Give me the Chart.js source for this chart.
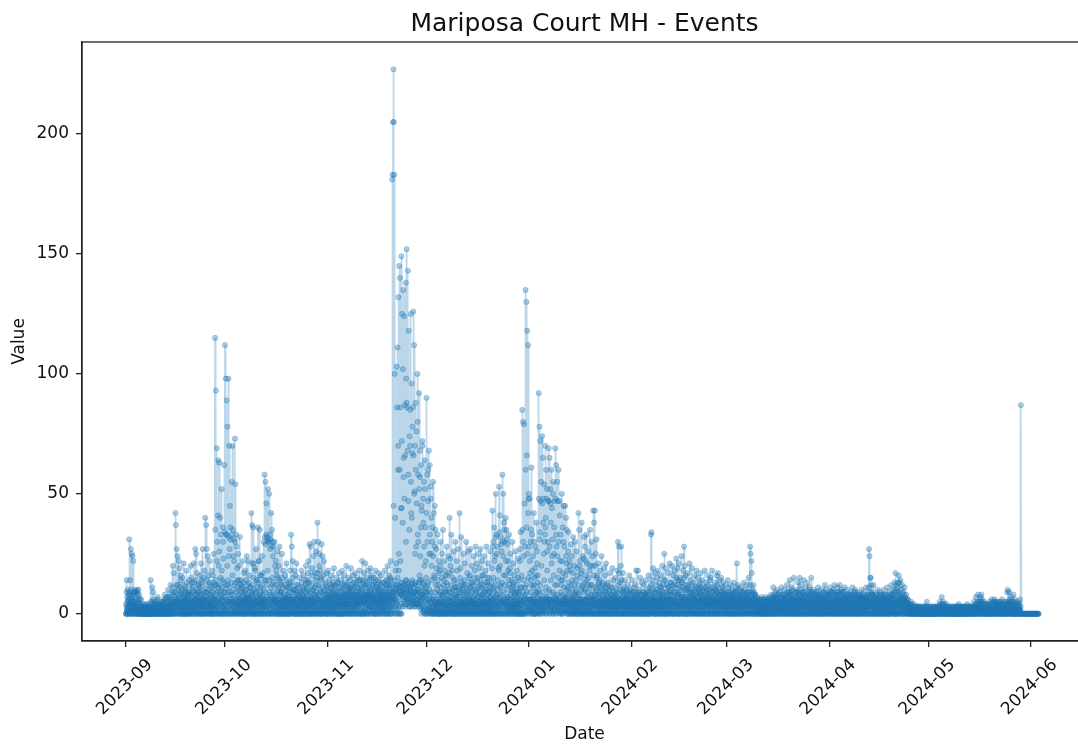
<!DOCTYPE html>
<html><head><meta charset="utf-8">
<style>html,body{margin:0;padding:0;background:#fff;overflow:hidden}#w{width:1078px;height:747px;overflow:hidden}</style>
<script src="https://cdn.jsdelivr.net/npm/chart.js@4"></script></head>
<body><div id="w"><canvas id="c" width="1087" height="747"></canvas></div>
<script>
const titleText = 'Mariposa Court MH - Events';
const xLabel = 'Date', yLabel = 'Value';
const monthLabels = ['2023-09','2023-10','2023-11','2023-12','2024-01','2024-02','2024-03','2024-04','2024-05','2024-06'];
const yTicks = [0,50,100,150,200];
// hourly readings: a = hour 0 of each 3-hour slot, b = hour 1, c = hour 2; one row per day
const sep2023 = [
0,0,14,1,0,6,0,3,
31,0,14,5,27,2,25,0,
24,0,22,3,9,0,4,1,
9,1,0,10,2,0,5,0,
8,0,3,0,6,1,0,2,
2,0,1,0,3,0,1,0,
0,1,0,2,0,1,0,0,
3,0,1,0,14,2,0,1,
11,0,9,2,0,4,1,0,
0,1,0,3,0,7,1,0,
2,0,1,0,4,0,1,0,
0,3,0,5,1,0,8,0,
3,0,2,7,0,1,10,0,
0,6,1,0,12,3,0,5,
9,0,20,2,17,0,4,1,
42,37,6,27,0,24,12,3,
22,0,19,5,16,0,8,2,
0,15,4,0,21,7,0,3,
11,0,6,18,1,0,9,4,
0,8,14,2,0,20,5,1,
13,3,0,10,21,0,6,2,
27,0,25,4,17,1,9,0,
0,12,5,16,0,8,21,3,
14,0,27,2,6,0,18,1,
40,0,37,9,27,3,24,0,
16,5,0,22,8,1,12,0,
0,18,3,13,0,25,6,2,
115,0,93,12,69,30,0,41,
64,20,63,0,40,8,33,0,
52,14,0,36,23,0,62,9];
const oct2023 = [
112,0,98,33,89,0,78,12,
98,24,70,0,45,31,8,0,
55,0,70,35,5,31,22,1,
73,54,0,33,28,0,14,3,
25,0,20,6,32,1,14,0,
12,3,0,22,8,0,17,2,
0,18,5,10,0,24,2,7,
22,0,6,16,1,11,0,4,
42,0,37,8,36,2,21,0,
19,4,0,27,9,1,14,0,
36,0,22,7,35,0,11,3,
16,0,24,2,8,0,30,5,
58,0,55,14,46,3,32,0,
52,30,0,50,9,33,31,2,
42,0,35,12,30,0,28,6,
30,5,0,22,18,0,26,1,
15,0,20,4,28,0,9,2,
0,12,25,0,6,18,1,0,
8,0,16,3,0,21,5,0,
11,2,0,13,7,0,18,1,
33,0,28,5,22,1,10,0,
18,0,6,16,0,21,3,0,
2,12,0,7,15,0,4,9,
0,18,5,0,11,2,16,0,
7,0,14,1,20,0,9,3,
13,0,22,4,0,29,6,0,
28,2,0,19,10,0,24,5,
30,0,17,7,26,0,12,1,
38,0,30,6,25,2,18,0,
15,0,29,3,24,0,9,1,
22,4,0,13,6,0,17,2];
const nov2023 = [
11,0,18,5,0,14,2,7,
0,16,3,9,0,12,1,0,
19,0,6,11,2,0,15,4,
8,0,13,1,17,0,5,0,
0,14,7,0,18,3,10,0,
16,2,0,9,12,0,20,4,
6,0,15,1,11,0,8,14,
0,19,4,10,0,7,16,2,
13,0,5,17,1,0,12,8,
0,15,9,3,0,18,6,0,
14,1,0,11,22,0,7,13,
0,17,5,0,21,9,2,12,
15,0,8,18,0,6,14,3,
19,4,0,10,16,1,12,0,
7,15,0,5,18,0,11,2,
12,0,9,14,0,17,3,8,
0,10,16,1,6,0,13,5,
3,0,9,18,2,0,14,7,
0,12,20,6,0,16,3,10,
0,22,14,6,0,181,183,205,
227,205,183,100,40,12,0,21,
103,0,111,60,132,18,145,0,
140,22,0,149,44,125,8,102,
135,65,124,12,87,4,138,98,
152,86,7,143,58,118,3,74,
85,10,125,42,96,5,67,86,
126,9,112,51,70,3,88,28,
76,6,100,33,58,4,92,16,
68,24,3,62,45,8,72,13,
48,2,55,20,64,0,36,11];
const dec2023 = [
90,0,58,12,47,3,68,8,
62,1,53,25,40,0,30,6,
55,0,42,15,28,4,35,0,
27,2,0,33,12,0,22,5,
18,0,30,4,8,0,25,1,
35,0,14,22,2,0,16,9,
0,28,6,12,0,24,3,17,
40,0,20,5,33,1,9,0,
15,0,26,2,11,0,30,4,
0,22,7,18,0,27,3,10,
42,0,19,4,32,0,13,1,
8,0,25,12,0,21,5,2,
30,3,0,17,9,0,26,6,
0,16,27,1,11,0,20,4,
13,0,24,6,0,18,2,28,
0,9,21,3,15,0,25,7,
19,0,12,27,1,0,8,22,
5,0,16,24,0,10,2,18,
0,28,6,13,0,21,3,9,
15,1,0,26,7,0,19,4,
43,0,30,11,36,2,24,0,
50,0,33,8,28,3,19,1,
53,0,41,12,32,0,26,5,
58,0,50,16,38,4,30,0,
40,0,35,7,29,1,22,3,
33,0,19,25,6,0,14,2,
30,0,12,21,3,16,0,8,
26,4,0,18,9,0,23,1,
14,0,27,5,34,0,11,2,
85,0,80,24,79,0,46,8,
135,0,130,66,118,3,112,48];
const jan2024 = [
50,0,48,17,30,0,61,6,
33,1,24,0,42,12,0,19,
28,0,38,9,21,3,16,0,
92,0,78,34,72,5,55,0,
74,3,65,48,0,54,30,2,
70,40,60,0,52,26,4,47,
69,6,65,0,52,38,3,60,
44,0,31,55,8,25,2,47,
69,5,62,28,0,55,47,1,
60,3,47,41,0,33,12,4,
50,0,36,17,45,2,28,7,
45,1,40,21,35,0,11,26,
34,0,22,5,18,0,29,3,
24,0,14,32,6,0,20,2,
30,0,10,26,1,16,0,8,
42,0,35,4,22,0,17,1,
38,3,0,24,12,0,32,6,
28,0,16,33,2,21,0,9,
26,5,0,18,35,1,12,0,
30,0,20,7,43,0,38,4,
43,0,25,10,31,2,16,0,
21,0,8,14,1,18,0,5,
24,2,0,12,6,0,19,3,
16,0,9,21,1,11,0,4,
0,13,5,0,17,2,8,0,
11,0,19,3,0,14,6,1,
7,0,15,2,10,0,18,3,
30,0,28,6,0,13,4,20,
28,2,0,9,17,0,5,11,
0,14,3,7,0,10,1,6,
12,0,4,16,1,0,8,3];
const feb2024 = [
0,9,2,14,0,5,11,0,
7,0,12,1,18,0,3,8,
18,2,0,10,5,0,15,1,
0,6,13,0,3,9,0,12,
8,1,0,14,4,0,7,2,
10,0,16,3,0,11,1,5,
33,34,0,14,7,19,1,0,
9,0,17,2,12,0,4,15,
0,18,5,0,13,8,1,11,
16,3,0,20,7,0,12,2,
25,0,14,4,19,0,9,1,
6,0,17,11,0,21,3,8,
13,1,0,20,5,0,16,9,
0,18,6,12,0,23,2,14,
19,0,8,21,3,0,15,5,
11,0,24,4,13,0,18,7,
28,0,20,2,16,0,10,3,
0,17,5,12,0,21,7,1,
14,0,9,19,2,0,13,6,
8,0,16,3,11,0,18,4,
0,15,7,0,12,2,9,13,
17,0,5,14,1,0,11,3,
6,0,18,8,0,13,4,10,
0,12,3,16,0,7,14,1,
15,0,9,5,18,0,3,11,
7,1,0,13,10,0,6,16,
12,0,17,4,0,8,14,2,
0,9,15,0,6,11,3,13,
10,0,5,12,2,0,8,7];
const mar2024 = [
9,0,14,3,11,0,6,1,
0,12,7,0,10,4,8,0,
13,2,0,9,5,0,11,3,
21,0,8,12,1,0,6,10,
7,0,11,3,0,9,4,1,
0,13,5,8,0,10,2,6,
12,0,7,4,15,0,9,1,
28,25,0,22,17,0,10,6,
12,0,9,5,0,8,3,1,
0,7,2,6,0,5,1,3,
6,0,4,1,7,0,2,5,
0,6,3,0,5,2,7,0,
4,0,6,1,5,0,3,7,
0,5,2,8,0,4,6,1,
11,0,7,3,0,9,2,5,
6,0,10,1,8,0,4,2,
0,9,5,0,11,3,7,0,
8,2,0,6,10,0,4,1,
0,12,3,7,0,5,9,2,
14,0,8,4,11,0,6,1,
7,0,15,2,0,9,5,3,
0,10,6,0,13,1,8,4,
15,0,5,12,2,0,9,6,
9,0,14,3,7,0,11,1,
0,8,4,13,0,6,2,10,
11,0,7,2,15,0,4,9,
6,1,0,10,5,0,8,3,
0,9,3,7,0,11,2,6,
8,0,5,1,10,0,4,7,
0,6,2,9,0,12,3,5,
10,0,7,4,0,8,1,6];
const apr2024 = [
8,0,11,3,6,0,9,2,
0,10,5,0,12,1,7,4,
6,0,9,2,11,0,4,8,
0,12,3,7,0,5,10,1,
9,0,6,4,0,11,2,7,
5,0,8,1,10,0,3,6,
0,7,2,9,0,5,8,1,
11,0,4,6,0,8,3,10,
6,1,0,9,5,0,7,2,
0,8,4,0,6,2,10,3,
7,0,5,9,1,0,6,4,
0,11,3,7,0,8,2,5,
27,24,0,15,15,12,0,8,
9,0,5,12,2,0,7,3,
0,8,3,6,0,10,1,5,
7,0,9,2,6,0,4,8,
0,6,1,10,3,0,7,2,
8,0,5,3,11,0,6,1,
0,9,4,0,7,2,12,3,
6,0,10,1,8,0,13,4,
17,0,12,5,9,0,13,2,
16,0,13,3,14,0,7,1,
12,4,0,9,6,0,11,2,
5,0,8,1,4,0,6,3,
0,4,1,3,0,2,5,0,
2,0,3,1,0,4,0,1,
0,2,1,0,3,0,1,2,
1,0,2,0,3,1,0,0,
0,2,0,1,0,3,0,1,
2,0,1,0,5,0,1,0];
const may2024 = [
0,1,0,2,0,1,3,0,
1,0,2,0,1,0,2,0,
0,2,1,0,3,0,1,0,
3,0,1,5,0,2,0,1,
7,0,4,1,5,0,2,0,
0,3,1,0,4,0,2,1,
2,0,1,3,0,1,0,2,
0,1,3,0,2,0,1,0,
1,0,2,0,3,1,0,2,
0,4,1,0,2,0,3,0,
2,0,1,0,3,0,1,0,
0,3,0,1,2,0,4,1,
2,0,1,3,0,1,0,2,
0,2,1,0,3,0,5,1,
3,0,1,7,0,2,4,0,
8,1,0,5,2,0,7,3,
8,0,6,2,0,4,1,3,
0,3,1,0,4,2,0,1,
2,0,3,0,5,1,0,2,
0,6,2,0,4,1,5,0,
6,0,3,1,5,0,2,4,
0,4,1,3,0,5,2,0,
3,0,6,1,2,0,4,1,
0,2,5,0,3,1,0,9,
10,0,4,2,9,0,5,1,
7,0,3,5,1,0,8,2,
0,6,2,0,4,1,3,0,
3,0,5,1,2,0,6,0,
87,0,0,0,0,0,0,0,
0,0,0,0,0,0,0,0,
0,0,0,0,0,0,0,0];
const jun2024 = [
0,0,0,0,0,0,0,0,
0,0,0,0,0,0,0,0,
0,0,0,0];
const sep2023b = [
4,9,2,7,10,3,8,1,
9,3,8,4,10,6,2,7,
8,5,9,2,7,10,3,6,
3,9,5,2,8,4,10,6,
4,1,3,6,2,4,1,3,
3,1,4,2,3,1,2,4,
2,3,1,4,2,1,3,2,
3,1,4,2,5,1,3,2,
5,2,6,3,4,1,5,2,
4,2,5,1,6,3,2,4,
3,1,4,2,3,5,1,2,
5,2,4,6,1,3,5,2,
6,3,1,5,4,7,2,3,
4,7,2,5,3,6,1,4,
8,3,11,5,9,2,7,4,
6,9,3,12,5,8,2,10,
7,4,11,6,14,3,9,5,
10,3,8,12,5,7,2,9,
6,10,4,13,7,3,8,5,
9,5,12,3,8,6,15,2,
7,11,4,9,5,13,3,8,
6,14,8,3,10,5,7,12,
4,9,6,11,3,7,13,5,
8,3,10,6,15,4,9,7,
5,12,7,3,9,14,6,4,
10,6,13,5,8,3,11,7,
4,9,16,6,3,10,7,12,
35,8,14,5,22,9,3,11,
12,6,26,9,4,15,7,10,
18,5,11,30,7,13,3,9];
const oct2023b = [
34,7,12,33,5,20,9,14,
32,11,6,27,9,36,4,13,
33,8,16,5,24,10,3,12,
30,6,13,9,4,19,7,11,
8,14,5,10,3,12,6,9,
4,11,7,3,13,6,9,5,
10,5,8,14,3,7,12,6,
7,13,4,9,6,11,3,8,
9,21,5,12,7,15,4,10,
6,18,9,3,14,7,11,5,
13,5,22,8,4,16,9,6,
7,12,4,17,6,10,3,14,
32,9,29,5,33,12,7,18,
31,6,30,14,8,27,5,11,
28,7,15,4,24,9,13,6,
8,20,5,12,7,16,3,10,
6,11,4,14,8,3,9,13,
9,5,15,3,7,11,6,4,
5,12,7,3,10,6,14,8,
7,4,11,5,9,3,12,6,
13,6,9,4,15,7,3,10,
5,10,3,8,12,6,4,9,
8,4,7,11,3,6,9,5,
6,13,3,8,5,10,7,4,
9,5,12,6,3,11,7,14,
10,17,5,8,13,3,9,6,
7,12,4,16,6,10,3,8,
5,11,8,14,3,9,6,15,
17,8,12,4,20,7,10,5,
9,14,5,11,3,8,16,6,
6,10,3,8,12,5,7,4];
const nov2023b = [
8,3,10,6,4,9,7,12,
5,11,7,3,9,6,13,4,
10,5,8,4,12,7,3,9,
6,13,4,9,5,11,7,3,
9,5,11,6,3,8,12,7,
7,4,13,8,5,10,6,3,
12,7,4,10,6,9,3,11,
9,5,12,6,3,8,10,4,
7,11,8,3,13,6,9,5,
11,6,4,14,8,5,10,7,
9,12,6,4,10,7,14,5,
8,5,12,7,4,11,6,9,
6,13,8,5,11,4,9,7,
10,6,15,8,3,12,7,5,
13,9,5,10,6,14,4,8,
7,11,4,9,13,6,10,5,
12,6,8,4,11,7,3,9,
8,13,5,7,10,4,12,6,
11,6,9,14,5,8,12,7,
15,9,5,12,8,4,11,7,
45,9,14,6,10,18,5,12,
86,8,15,70,11,25,9,60,
86,13,44,8,72,11,38,10,
57,9,48,12,66,7,30,14,
88,6,68,12,47,9,35,8,
70,11,55,6,40,13,78,5,
66,7,50,12,25,9,60,4,
46,10,80,6,30,13,52,5,
57,9,36,14,43,6,70,8,
38,12,28,5,52,9,22,15];
const dec2023b = [
42,8,30,13,60,6,25,10,
33,5,48,9,20,14,36,3,
24,7,16,4,45,9,12,6,
19,5,10,14,3,8,17,6,
9,20,4,11,6,15,3,8,
7,12,5,9,18,3,10,6,
13,4,8,16,5,10,3,7,
9,23,6,3,12,7,18,5,
6,10,4,14,8,3,11,7,
8,13,4,6,11,3,9,5,
7,15,5,9,3,12,6,10,
4,11,7,3,14,6,9,5,
8,4,12,6,10,3,7,15,
11,5,8,3,13,6,9,4,
7,12,4,10,5,15,3,8,
6,10,3,13,7,4,11,5,
9,4,14,6,3,11,7,16,
8,12,5,3,9,7,13,4,
6,10,4,15,8,3,12,5,
9,5,11,7,3,13,6,10,
28,6,15,9,22,4,12,7,
32,8,25,5,14,10,3,18,
34,7,20,11,5,29,8,13,
30,9,24,6,35,4,12,16,
22,5,31,10,7,18,3,14,
12,4,17,8,3,11,6,9,
10,5,7,13,4,9,6,3,
7,12,4,10,5,15,3,8,
9,6,22,4,11,7,16,5,
35,9,30,5,14,7,28,11,
60,12,36,9,25,6,42,15];
const jan2024b = [
28,6,22,9,14,35,5,12,
18,7,11,4,30,8,15,3,
16,5,9,26,4,13,7,10,
48,8,31,12,47,6,20,4,
46,9,38,5,25,14,7,33,
36,11,48,7,18,5,30,9,
47,10,28,6,46,14,5,21,
24,5,50,9,16,36,7,12,
48,6,33,12,5,24,8,15,
30,7,18,4,22,9,14,5,
22,5,14,8,30,4,11,6,
16,7,24,4,10,18,5,8,
13,5,9,20,6,3,12,7,
10,4,17,7,3,12,8,5,
8,14,4,9,5,19,3,6,
12,5,20,8,3,15,6,10,
18,4,11,6,23,5,9,13,
10,6,22,3,14,7,4,12,
15,7,4,11,20,6,8,3,
12,5,24,3,9,16,6,8,
20,6,11,4,15,8,3,12,
7,13,4,9,5,11,3,6,
10,4,8,13,3,7,5,9,
6,11,3,8,4,12,5,7,
5,9,3,7,10,4,6,3,
8,4,11,5,3,7,9,4,
6,3,8,4,9,5,3,7,
12,5,17,3,8,6,10,4,
14,4,7,3,10,5,8,6,
5,9,3,6,4,8,3,5,
7,3,9,5,4,10,6,3];
const feb2024b = [
5,8,3,6,9,4,7,3,
6,3,9,5,4,8,6,3,
9,4,7,3,8,5,3,6,
4,8,5,3,9,6,4,7,
6,3,8,5,3,7,4,9,
5,8,4,6,3,9,5,3,
12,5,8,3,10,6,4,7,
7,3,9,5,4,10,6,3,
5,9,4,7,3,8,6,10,
11,5,8,3,9,6,4,7,
14,6,3,9,5,12,7,4,
8,4,11,6,3,9,5,13,
10,6,3,8,12,4,7,5,
6,11,4,9,5,15,3,8,
12,5,9,4,14,7,3,10,
7,4,13,8,5,11,6,3,
15,6,10,4,9,3,12,7,
5,11,7,3,9,6,4,10,
9,5,3,12,6,8,4,7,
6,10,4,8,3,9,5,11,
4,7,10,5,3,8,6,9,
11,5,8,3,7,10,4,6,
7,3,9,5,11,4,6,8,
5,9,4,7,3,10,6,4,
8,4,11,6,3,7,9,5,
6,3,8,10,5,4,7,9,
9,5,3,7,11,4,6,8,
4,8,6,3,9,5,7,3,
7,3,9,5,4,8,6,3];
const mar2024b = [
6,3,8,5,9,4,7,3,
5,8,4,6,3,9,5,7,
8,4,6,3,7,5,9,4,
10,5,3,7,4,8,6,3,
5,8,3,6,9,4,7,5,
4,7,9,5,3,6,8,4,
7,3,9,6,4,8,5,3,
12,7,4,9,5,3,8,6,
6,3,7,4,8,5,3,6,
5,3,4,6,2,5,3,4,
4,2,5,3,6,2,4,3,
3,5,2,4,6,3,2,5,
5,3,6,2,4,5,3,2,
3,6,4,2,5,3,7,4,
6,3,8,5,2,7,4,6,
7,4,3,6,8,2,5,3,
5,7,3,6,4,8,2,5,
4,6,2,7,5,3,8,4,
7,3,9,5,2,6,4,8,
9,5,3,7,4,10,6,2,
5,8,4,6,3,7,9,4,
6,3,9,5,7,2,6,8,
8,4,10,3,6,5,7,3,
6,9,3,7,4,8,5,3,
4,7,5,3,9,6,2,8,
7,4,9,5,3,8,6,2,
5,8,3,7,2,6,9,4,
4,7,5,2,8,6,3,7,
6,3,8,4,7,2,5,9,
3,7,5,2,8,4,6,3,
7,4,2,8,5,3,9,5];
const apr2024b = [
5,8,3,6,9,4,7,3,
7,3,9,5,4,8,6,2,
8,4,6,3,7,5,9,4,
4,8,5,3,9,6,3,7,
6,3,9,5,3,7,4,8,
7,4,6,2,8,5,3,6,
5,8,3,6,4,7,3,5,
8,4,7,3,9,5,6,3,
4,7,5,2,8,6,3,7,
6,3,8,5,2,7,4,6,
5,8,3,6,4,7,2,5,
7,3,6,4,8,5,3,6,
11,6,9,4,7,3,8,5,
6,4,8,3,7,5,2,6,
5,7,3,6,4,8,3,5,
4,6,3,8,5,2,7,4,
7,3,5,8,2,6,4,6,
5,8,3,6,4,7,3,5,
6,3,8,5,2,7,4,8,
8,4,6,3,7,5,9,3,
10,6,3,8,5,11,4,7,
9,5,8,3,6,10,4,6,
7,3,6,4,8,3,5,7,
4,6,3,5,2,6,4,3,
3,2,4,1,3,2,4,1,
2,3,1,3,2,1,3,2,
1,3,2,1,3,2,1,3,
2,1,3,1,2,3,1,2,
1,2,3,1,2,1,3,2,
3,1,2,3,1,2,3,1];
const may2024b = [
2,1,3,1,2,3,1,2,
1,3,2,1,3,1,2,3,
2,1,3,2,1,3,2,1,
2,3,1,3,2,4,1,3,
3,2,4,1,3,2,4,1,
2,1,3,2,1,3,1,2,
1,3,2,1,2,3,1,2,
2,1,2,3,1,2,3,1,
3,2,1,2,3,1,2,3,
1,3,2,3,1,2,3,1,
2,3,1,2,3,1,2,3,
1,2,3,1,3,2,1,3,
3,1,2,3,1,2,3,1,
2,3,1,2,3,1,3,2,
2,4,3,1,4,2,3,5,
4,2,5,3,1,4,2,5,
3,5,2,4,1,3,5,2,
2,4,1,3,2,4,1,3,
3,1,4,2,3,1,4,2,
2,4,1,3,5,2,3,1,
3,5,2,4,1,3,5,2,
3,1,4,2,5,3,1,4,
2,4,1,3,5,2,4,3,
3,1,4,2,5,3,1,4,
4,2,5,3,1,6,2,4,
3,5,1,4,2,5,3,1,
2,4,1,3,2,5,1,3,
4,2,3,1,4,2,1,3];
const sep2023c = [
0,3,1,5,0,2,4,6,
1,4,0,3,5,0,2,4,
3,0,2,5,1,4,0,3,
0,2,1,3,0,2,1,0,
1,0,2,0,1,0,1,0,
0,1,0,1,0,2,0,1,
1,0,0,1,0,0,1,0,
0,2,0,1,0,1,0,2,
0,1,3,0,2,0,1,0,
2,0,1,0,3,0,2,1,
0,1,2,0,1,0,2,0,
1,0,3,1,0,2,0,1,
0,2,3,0,1,3,0,2,
3,0,2,4,0,1,3,0,
1,4,0,2,5,0,3,1,
5,0,3,1,4,0,2,6,
0,3,5,1,0,4,2,0,
4,1,0,5,2,0,3,6,
0,5,2,0,4,1,3,0,
3,0,6,1,4,0,2,5,
0,4,2,5,0,3,1,6,
4,0,2,6,1,0,5,3,
2,5,0,3,1,4,0,6,
0,3,5,0,2,4,1,0,
3,6,0,2,5,1,4,0,
1,4,2,0,5,3,0,2,
5,0,3,1,6,0,2,4,
0,4,2,6,0,3,5,1,
3,0,5,2,0,4,1,6,
0,3,1,5,2,0,4,2];
const oct2023c = [
4,0,2,6,1,3,0,5,
0,3,5,1,4,0,2,6,
2,5,0,3,1,6,0,4,
0,2,4,1,5,0,3,1,
3,0,6,2,0,4,1,5,
1,4,0,3,5,0,2,6,
5,0,2,4,1,6,0,3,
0,3,6,1,4,0,2,5,
3,1,0,4,2,6,0,5,
0,5,2,0,3,1,6,4,
2,0,4,1,6,3,0,5,
0,4,1,5,2,0,3,6,
5,2,0,3,6,1,4,0,
3,0,5,1,4,2,0,6,
0,4,2,6,0,3,1,5,
1,3,0,5,2,4,0,6,
4,0,2,6,1,0,5,3,
0,5,3,1,4,0,2,6,
2,0,4,1,6,3,0,5,
0,3,5,2,0,4,1,6,
3,1,0,5,2,6,0,4,
0,4,2,5,1,0,6,3,
5,0,3,1,4,2,0,6,
1,5,0,2,6,3,0,4,
0,3,6,1,5,0,2,4,
4,1,0,3,5,2,0,6,
0,5,2,6,1,4,0,3,
3,0,4,1,5,0,2,6,
1,4,0,2,6,3,0,5,
0,2,5,1,4,0,3,6,
4,0,1,5,2,6,0,3];
const nov2023c = [
0,5,2,8,1,3,6,0,
4,1,7,0,3,5,2,8,
2,6,0,4,1,7,3,0,
5,0,3,7,2,6,0,4,
1,6,3,0,5,2,8,4,
0,4,7,1,3,6,2,8,
5,0,3,8,1,4,0,6,
2,7,0,4,6,1,3,8,
0,5,2,7,3,0,6,4,
3,8,1,5,0,4,7,2,
6,0,4,1,8,3,5,0,
1,5,7,2,0,6,3,8,
4,0,6,2,5,1,8,3,
0,7,3,5,1,6,2,8,
6,2,0,4,7,3,1,5,
0,6,3,8,1,5,2,4,
3,7,0,5,2,8,1,6,
1,5,3,0,7,4,2,8,
5,0,2,8,4,1,6,3,
2,6,0,9,3,7,1,5,
7,0,10,3,6,2,9,4,
5,9,2,12,0,7,3,10,
11,4,8,0,13,6,3,9,
7,12,5,10,3,14,6,9,
4,10,6,13,5,8,11,3,
9,5,12,3,8,14,4,7,
6,11,3,9,13,4,8,5,
12,4,9,6,3,10,7,14,
5,2,8,0,11,4,7,1,
3,7,0,10,2,6,1,9];
const dec2023c = [
0,4,1,6,2,5,0,3,
2,0,5,1,3,0,6,1,
0,3,1,5,0,2,4,1,
3,1,0,4,2,0,5,1,
0,2,4,0,1,5,0,3,
1,4,0,2,5,1,0,3,
4,0,2,1,5,0,3,1,
0,3,1,5,0,2,1,4,
2,0,4,1,0,3,5,0,
1,5,0,3,1,0,4,2,
0,2,1,4,0,5,1,3,
3,0,1,5,2,0,4,1,
0,4,2,0,3,1,5,0,
2,1,0,4,1,5,0,3,
0,3,5,1,0,2,4,1,
4,0,1,3,0,5,2,0,
1,3,0,5,2,0,4,1,
0,2,4,1,5,0,3,1,
3,1,0,5,2,0,4,1,
0,4,2,0,1,5,0,3,
2,0,6,1,3,5,0,4,
1,5,0,3,6,0,2,4,
0,4,2,6,1,0,5,3,
5,0,3,1,4,6,0,2,
3,1,6,0,4,2,5,0,
0,3,1,5,0,2,4,1,
2,0,4,1,3,0,5,1,
1,3,0,5,2,0,4,1,
3,0,1,6,0,4,2,0,
0,5,2,0,3,6,1,4,
4,1,6,0,3,5,1,2];
const jan2024c = [
1,3,6,2,5,4,2,0,
3,5,1,6,2,0,4,5,
0,4,2,5,1,6,3,2,
1,5,3,0,6,2,4,1,
3,2,6,4,1,5,3,6,
0,4,1,5,3,6,2,4,
2,6,0,3,5,1,4,2,
5,1,3,0,6,2,4,5,
0,3,6,2,4,1,5,3,
2,6,1,4,0,5,3,1,
4,0,3,6,1,5,2,4,
1,5,0,2,6,3,4,1,
3,0,4,1,5,2,0,6,
0,3,1,5,2,0,4,1,
2,0,5,1,3,0,6,2,
0,4,2,6,1,3,0,5,
3,1,0,5,2,0,4,1,
0,5,3,1,6,0,2,4,
4,0,2,1,5,3,0,6,
1,3,0,5,2,6,0,4,
0,4,2,6,1,0,3,5,
3,0,5,1,4,0,2,6,
0,2,4,1,5,3,0,6,
4,1,0,3,6,2,0,5,
0,3,1,6,2,0,4,5,
2,0,5,1,4,0,3,6,
0,4,2,6,1,3,0,5,
3,1,0,5,2,6,0,4,
0,3,5,1,4,0,2,6,
2,0,4,1,6,3,0,5,
0,5,2,0,3,1,6,4];
const feb2024c = [
3,0,5,2,0,4,1,6,
0,4,1,5,2,0,6,3,
2,0,6,1,4,0,3,5,
0,3,1,5,6,0,2,4,
4,0,2,1,5,3,0,6,
0,5,2,0,3,1,6,4,
2,0,4,1,6,3,0,5,
0,3,5,1,4,0,2,6,
3,1,0,5,2,6,0,4,
0,4,2,6,1,3,0,5,
2,0,5,1,4,0,3,6,
0,3,1,6,2,0,4,5,
4,1,0,3,6,2,0,5,
0,2,4,1,5,3,0,7,
3,0,5,1,4,0,2,6,
0,4,2,7,1,3,0,5,
3,1,0,6,2,5,0,4,
0,5,2,0,4,1,7,3,
2,0,4,1,6,3,0,5,
0,3,6,1,5,0,2,4,
4,1,0,3,5,2,0,6,
0,5,2,6,1,4,0,3,
3,0,4,1,5,0,2,6,
1,4,0,2,6,3,0,5,
0,2,5,1,4,0,3,6,
4,0,1,5,2,6,0,3,
0,3,1,5,0,2,4,6,
2,5,0,3,1,6,0,4,
0,4,2,6,1,3,0,5];
const mar2024c = [
2,0,4,1,5,3,0,6,
0,3,1,5,2,0,4,6,
3,0,5,1,4,0,2,6,
0,4,2,6,1,3,0,5,
2,0,5,1,3,0,6,4,
0,3,1,6,2,0,4,5,
3,1,0,5,2,6,0,4,
0,4,2,6,1,3,0,5,
2,0,4,1,5,3,0,1,
1,0,3,1,0,2,0,1,
0,2,1,0,3,0,1,4,
2,0,1,3,0,2,1,0,
0,2,0,3,1,0,2,1,
2,0,3,1,0,2,1,0,
0,4,1,0,3,5,0,2,
3,0,1,5,0,2,4,1,
0,3,1,5,2,0,4,1,
2,0,5,1,3,0,6,1,
0,4,2,0,5,1,3,0,
3,1,0,5,2,0,6,1,
0,3,1,5,0,2,4,0,
2,5,0,3,1,6,0,4,
0,2,4,0,5,1,3,0,
3,0,1,5,2,0,4,1,
0,4,2,0,3,1,5,0,
2,0,5,1,4,0,3,1,
0,3,1,5,0,2,4,0,
2,0,4,1,5,0,3,1,
0,5,2,0,3,1,6,0,
4,0,2,6,1,3,0,5,
0,3,5,1,4,0,2,1];
const apr2024c = [
3,0,5,1,0,2,4,1,
0,4,2,0,3,1,5,0,
2,0,5,1,3,0,6,1,
0,3,1,5,0,2,4,0,
3,1,0,6,2,0,4,1,
0,4,2,0,5,1,3,0,
2,0,4,1,5,0,3,1,
0,3,1,5,0,2,4,0,
3,0,2,5,1,0,4,1,
0,5,2,0,3,1,6,0,
4,1,0,3,5,0,2,1,
0,3,1,5,0,2,4,0,
3,0,5,1,4,0,2,6,
0,4,2,0,5,1,3,0,
2,0,4,1,3,0,5,1,
0,3,1,5,0,2,4,0,
3,1,0,4,2,0,5,1,
0,4,2,0,3,1,5,0,
2,0,5,1,4,0,3,1,
0,3,1,6,2,0,4,0,
3,0,5,1,4,0,2,6,
0,4,2,6,1,3,0,5,
2,0,4,1,3,0,5,1,
0,3,1,4,0,2,3,0,
1,0,2,0,1,0,1,0,
0,1,0,1,0,2,0,1,
1,0,2,0,1,0,0,1,
0,1,0,2,0,1,0,0,
1,0,0,1,0,0,2,0,
0,1,0,2,0,1,0,1];
const may2024c = [
1,0,1,0,1,0,0,1,
0,1,0,1,0,2,0,0,
1,0,0,2,0,1,0,1,
0,1,2,0,1,0,2,0,
1,0,1,2,0,1,0,2,
0,1,0,1,0,1,0,0,
1,0,0,1,0,2,0,0,
0,1,0,1,0,0,1,0,
0,1,0,0,1,0,1,0,
1,0,0,1,0,1,0,1,
0,1,0,1,0,0,1,0,
1,0,1,0,0,1,0,2,
0,1,0,0,1,0,1,0,
1,0,0,1,0,2,0,1,
0,1,2,0,1,0,2,1,
2,0,1,3,0,1,3,0,
0,2,1,0,3,1,0,2,
1,0,2,0,1,0,3,0,
0,2,0,1,0,3,0,1,
1,0,3,1,0,2,0,1,
0,2,1,0,3,1,0,2,
1,0,2,0,1,0,3,1,
0,1,0,2,0,1,0,2,
1,0,2,1,0,3,0,1,
0,3,1,0,3,1,0,2,
1,0,2,0,3,0,1,0,
0,1,0,2,0,1,0,2,
1,0,1,0,2,0,0,1];

const monthSeries = [sep2023,oct2023,nov2023,dec2023,jan2024,feb2024,mar2024,apr2024,may2024,jun2024];
const monthSeriesB = [sep2023b,oct2023b,nov2023b,dec2023b,jan2024b,feb2024b,mar2024b,apr2024b,may2024b,[]];
const monthSeriesC = [sep2023c,oct2023c,nov2023c,dec2023c,jan2024c,feb2024c,mar2024c,apr2024c,may2024c,[]];

const monthStart = monthLabels.map(s => Date.parse(s + '-01T00:00:00Z'));
const HOUR = 3600000, DAY = 86400000;
const points = [];
monthSeries.forEach((vals, m) => {
  vals.forEach((v, i) => {
    const t = monthStart[m] + i * 3 * HOUR;
    points.push({x: t, y: v});
    const b = monthSeriesB[m][i], c = monthSeriesC[m][i];
    if (b !== undefined) points.push({x: t + HOUR, y: b});
    if (c !== undefined) points.push({x: t + 2 * HOUR, y: c});
  });
});

const PLOT_L = 82, PLOT_T = 42, PLOT_B = 641;
const frame = {id:'frame',
  afterDatasetsDraw(ch){
    const a = ch.chartArea, g = ch.ctx;
    g.save(); g.strokeStyle = '#222'; g.lineWidth = 1.3;
    g.strokeRect(a.left, a.top, a.right - a.left, a.bottom - a.top); g.restore();
  }};
const FONT = 'DejaVu Sans';
new Chart(document.getElementById('c'), {
  type: 'line',
  data: {datasets: [{
    data: points, parsing: false, normalized: true,
    borderColor: 'rgba(31,119,180,0.3)', borderWidth: 1.8, borderJoinStyle: 'round',
    pointRadius: 2.6, pointBorderWidth: 1,
    pointBackgroundColor: 'rgba(31,119,180,0.33)', pointBorderColor: 'rgba(31,119,180,0.33)',
    tension: 0
  }]},
  options: {
    responsive: false, animation: false, devicePixelRatio: 1,
    layout: {autoPadding: false, padding: 0},
    plugins: {
      legend: {display: false}, tooltip: {enabled: false},
      title: {display: true, fullSize: false, text: titleText, color: '#111', font: {family: FONT, size: 25, weight: 'normal'}, padding: {top: 9, bottom: 3}}
    },
    scales: {
      x: {
        type: 'linear',
        min: monthStart[0] - 13.3 * DAY, max: monthStart[0] + 291 * DAY,
        afterBuildTicks(s){ s.ticks = monthStart.map(v => ({value: v})); },
        afterFit(s){ s.height = 747 - PLOT_B; s.paddingLeft = 0; s.paddingRight = 0; },
        grid: {drawOnChartArea: false, drawTicks: true, tickLength: 6, tickColor: '#222', lineWidth: 1.3},
        border: {color: '#222', width: 1.3},
        ticks: {
          autoSkip: false, minRotation: 45, maxRotation: 45, labelOffset: 24, padding: 8,
          color: '#111', font: {family: FONT, size: 17},
          callback: v => monthLabels[monthStart.indexOf(v)]
        },
        title: {display: true, text: xLabel, color: '#111', font: {family: FONT, size: 17}, padding: {top: 0, bottom: 2}}
      },
      y: {
        min: -11.35, max: 238.35,
        afterBuildTicks(s){ s.ticks = yTicks.map(v => ({value: v})); },
        afterFit(s){ s.width = PLOT_L; s.paddingTop = 0; s.paddingBottom = 0; },
        grid: {drawOnChartArea: false, drawTicks: true, tickLength: 6, tickColor: '#222', lineWidth: 1.3},
        border: {color: '#222', width: 1.3},
        ticks: {autoSkip: false, padding: 7, color: '#111', font: {family: FONT, size: 17}, callback: v => String(v)},
        title: {display: true, text: yLabel, color: '#111', font: {family: FONT, size: 17}, padding: {top: 9, bottom: 0}}
      }
    }
  },
  plugins: [frame]
});
</script></body></html>
